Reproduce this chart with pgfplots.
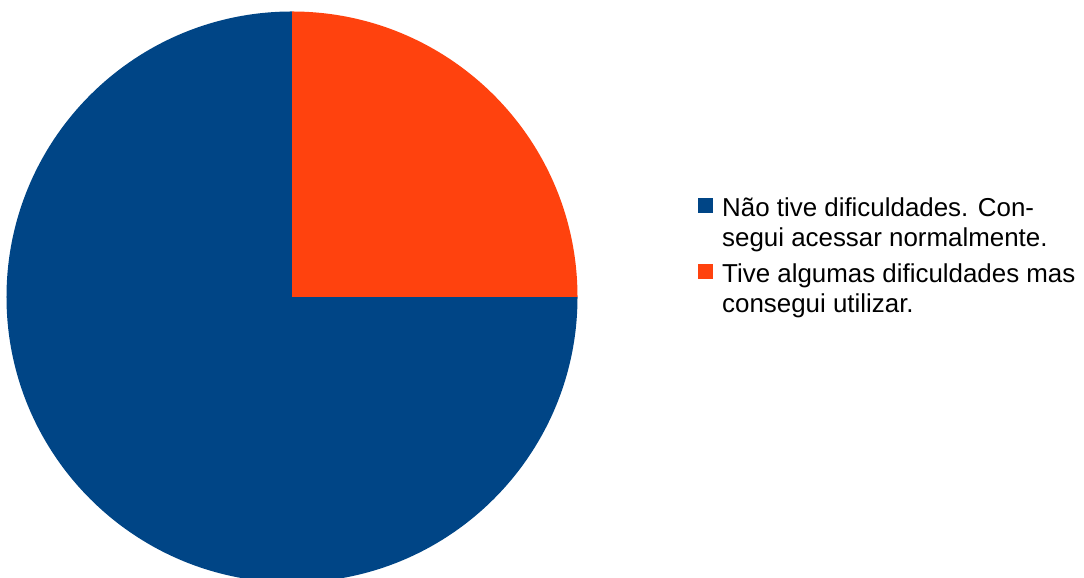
\documentclass[border=0pt]{standalone}
\usepackage{fontspec}
\setmainfont{Liberation Sans}[Ligatures=NoCommon]
\usepackage{pgfplots}
\usepackage{pgfplotstable}
\pgfplotsset{compat=1.18}
\definecolor{c1}{HTML}{004586}
\definecolor{c2}{HTML}{FF420E}
\pgfplotstableread{
id value
1 75
2 25
}\piedata
\begin{document}
\begin{tikzpicture}
\pgfplotstablegetelem{0}{value}\of\piedata \let\vA\pgfplotsretval
\pgfplotstablegetelem{1}{value}\of\piedata \let\vB\pgfplotsretval
\pgfmathsetmacro{\tot}{\vA+\vB}
\pgfmathsetmacro{\aA}{90+360*(\vA/\tot)}
\pgfmathsetmacro{\aB}{\aA+360*(\vB/\tot)}
\begin{axis}[
  x=1bp, y=1bp, xmin=0, xmax=1084, ymin=0, ymax=578,
  hide axis, clip=true,
]
\begin{scope}
\clip (axis cs:0,0) rectangle (axis cs:1084,578);
\fill[c1] (axis cs:292,281) -- ++(90:285.5bp) arc[start angle=90, end angle=\aA, radius=285.5bp] -- cycle;
\fill[c2] (axis cs:292,281) -- ++(\aA:285.5bp) arc[start angle=\aA, end angle=\aB, radius=285.5bp] -- cycle;
\end{scope}
% legend
\fill[c1] (axis cs:697.5,365) rectangle (axis cs:712.5,379.5);
\fill[c2] (axis cs:697.5,299) rectangle (axis cs:712.5,313.5);
\begin{scope}[every node/.style={anchor=base west, inner sep=0pt, font=\fontsize{26}{30}\selectfont}]
\node at (axis cs:722,361.3) {Não tive dificuldades. Con-};
\node at (axis cs:722,331.3) {segui acessar normalmente.};
\node at (axis cs:722,295.7) {Tive algumas dificuldades mas};
\node at (axis cs:722,265.7) {consegui utilizar.};
\end{scope}
\end{axis}
\pgfresetboundingbox
\path[use as bounding box] (current axis.south west) rectangle (current axis.north east);
\end{tikzpicture}
\end{document}
